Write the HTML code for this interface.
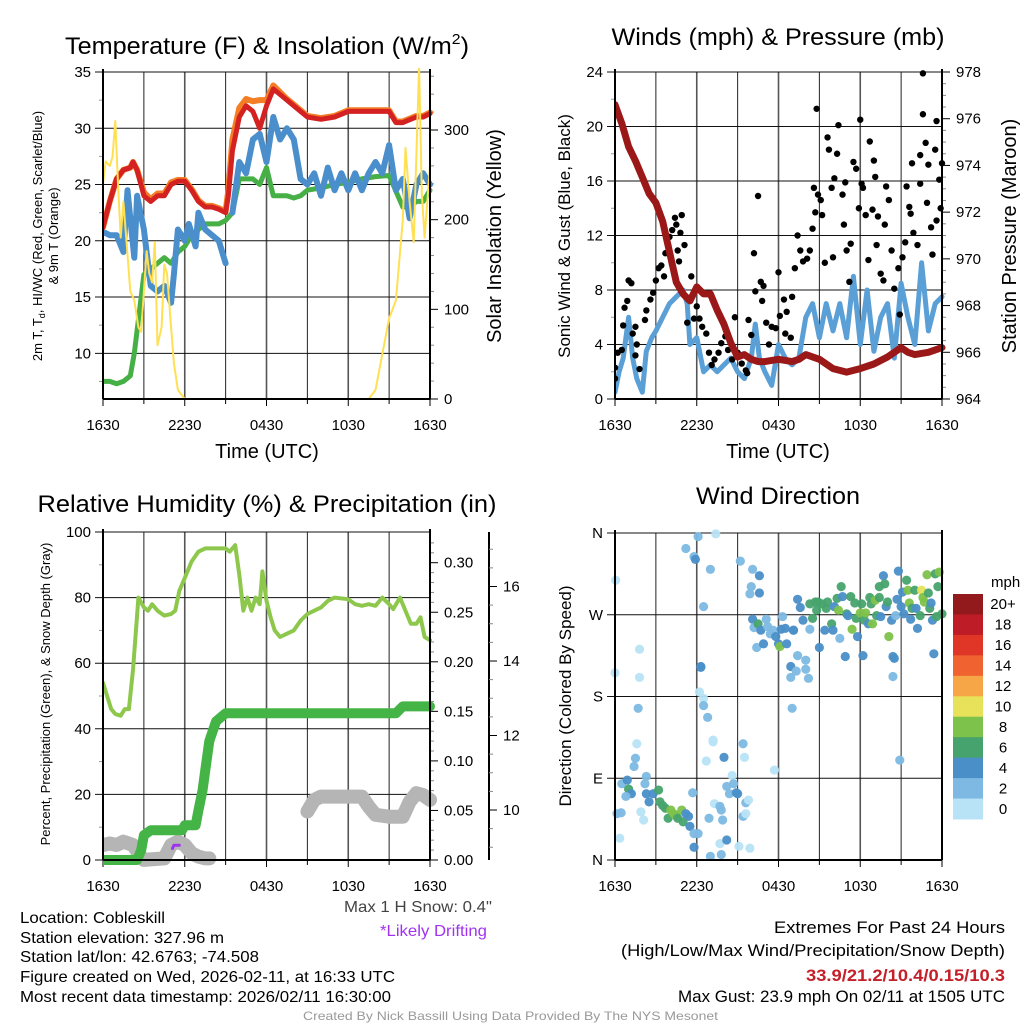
<!DOCTYPE html>
<html><head><meta charset="utf-8"><style>
html,body{margin:0;padding:0;background:#fff}
svg{display:block;font-family:"Liberation Sans",sans-serif}
</style></head><body>
<svg id="s" width="1024" height="1024" viewBox="0 0 1024 1024" xmlns="http://www.w3.org/2000/svg">
<rect width="1024" height="1024" fill="#fff"/>
<g id="g1"></g>
<g id="g2"></g>
<g id="g3"></g>
<g id="g4"></g>
<g font-size="24" fill="#000" text-anchor="middle">
<text x="267" y="54" textLength="404" lengthAdjust="spacingAndGlyphs">Temperature (F) &amp; Insolation (W/m<tspan font-size="15" dy="-10">2</tspan><tspan dy="10">)</tspan></text>
<text x="778" y="45" textLength="333" lengthAdjust="spacingAndGlyphs">Winds (mph) &amp; Pressure (mb)</text>
<text x="267" y="512" textLength="459" lengthAdjust="spacingAndGlyphs">Relative Humidity (%) &amp; Precipitation (in)</text>
<text x="778" y="504" textLength="164" lengthAdjust="spacingAndGlyphs">Wind Direction</text>
</g>
<g font-size="20" text-anchor="middle">
<text x="267" y="458">Time (UTC)</text>
<text x="778" y="458">Time (UTC)</text>
<text transform="translate(501,236) rotate(-90)">Solar Insolation (Yellow)</text>
<text transform="translate(1016,236) rotate(-90)">Station Pressure (Maroon)</text>
</g>
<g font-size="13" text-anchor="middle">
<text transform="translate(42,236) rotate(-90)">2m T, T<tspan font-size="9" dy="3">d</tspan><tspan dy="-3">, HI/WC (Red, Green, Scarlet/Blue)</tspan></text>
<text transform="translate(58,236) rotate(-90)">&amp; 9m T (Orange)</text>
<text transform="translate(50,694) rotate(-90)">Percent, Precipitation (Green), &amp; Snow Depth (Gray)</text>
</g>
<g font-size="17" text-anchor="middle">
<text transform="translate(570,236) rotate(-90)">Sonic Wind &amp; Gust (Blue, Black)</text>
<text transform="translate(571,696) rotate(-90)">Direction (Colored By Speed)</text>
</g>
<g font-size="16" fill="#000">
<text x="20" y="923" textLength="145" lengthAdjust="spacingAndGlyphs">Location: Cobleskill</text>
<text x="20" y="943" textLength="204" lengthAdjust="spacingAndGlyphs">Station elevation: 327.96 m</text>
<text x="20" y="962" textLength="239" lengthAdjust="spacingAndGlyphs">Station lat/lon: 42.6763; -74.508</text>
<text x="20" y="982" textLength="375" lengthAdjust="spacingAndGlyphs">Figure created on Wed, 2026-02-11, at 16:33 UTC</text>
<text x="20" y="1002" textLength="371" lengthAdjust="spacingAndGlyphs">Most recent data timestamp: 2026/02/11 16:30:00</text>
<text x="344" y="912" textLength="148" lengthAdjust="spacingAndGlyphs" fill="#444">Max 1 H Snow: 0.4"</text>
<text x="380" y="936" textLength="107" lengthAdjust="spacingAndGlyphs" fill="#a032f0">*Likely Drifting</text>
</g>
<g font-size="16.5" fill="#000">
<text x="774" y="933" textLength="231" lengthAdjust="spacingAndGlyphs">Extremes For Past 24 Hours</text>
<text x="621" y="956" textLength="384" lengthAdjust="spacingAndGlyphs">(High/Low/Max Wind/Precipitation/Snow Depth)</text>
<text x="806" y="981" textLength="199" lengthAdjust="spacingAndGlyphs" fill="#c4202a" font-weight="bold">33.9/21.2/10.4/0.15/10.3</text>
<text x="678" y="1002" textLength="327" lengthAdjust="spacingAndGlyphs">Max Gust: 23.9 mph On 02/11 at 1505 UTC</text>
</g>
<text x="303" y="1020" font-size="12" fill="#999" textLength="415" lengthAdjust="spacingAndGlyphs">Created By Nick Bassill Using Data Provided By The NYS Mesonet</text>
</svg>
<script>
// ---------- data ----------
const xTickLabels=["1630","2230","0430","1030","1630"];
const tempT=[0,0.5,1,1.5,2,2.2,2.5,3,3.5,4,4.5,5,5.5,6,6.5,7,7.5,8,8.5,9,9.2,9.5,10,10.5,11,11.5,12,12.5,13,13.5,14,14.5,15,16,17,18,19,20,21,21.5,22,23,23.5,24];
const tempV=[21.2,23.5,25.5,26.3,26.5,27,26.3,24,23.5,24,24,25,25.3,25.3,24.5,23.5,23,23,22.8,22.5,24,28,31,32,31.5,30,32,33.5,33,32.5,32,31.5,31,30.8,31,31.5,31.5,31.5,31.5,30.5,30.5,31,31,31.3];
const temp9V=[21.2,23.5,25.5,26.3,26.5,27,26.3,24.3,23.7,24.2,24.2,25.2,25.4,25.4,24.6,23.6,23.1,23.1,22.9,22.6,24.5,29,31.8,32.6,32.4,32.5,32.5,33.8,33.2,32.6,32.1,31.6,31.1,30.9,31.1,31.6,31.6,31.6,31.6,30.6,30.6,31.1,31.1,31.4];
const chillT=[0,0.5,1,1.5,1.8,2,2.3,2.5,3,3.5,4,4.5,5,5.2,5.5,6,6.3,6.8,7,7.5,8,8.5,9,9.3,9.5,10,10.5,11,11.5,12,12.5,13,13.5,14,14.5,15,15.5,16,16.5,17,17.5,18,18.5,19,19.5,20,20.5,21,21.5,22,22.5,23,23.5,24];
const chillV=[20.8,20.5,20.5,19,24.5,22,18.5,24,21,16,15.5,16,14.5,17,21,20,21.5,19.5,22.5,21,20.5,20,18,null,22.5,27,26,29,29.5,27,31,29,30,29,25.5,25,26,24,26.5,24.5,26,24.5,26,24.5,26,27,26,28.5,24.5,25.5,22,25,26,25];
const dewT=[0,0.5,1,1.5,2,2.3,2.7,3,3.5,4,4.5,5,5.5,6,6.5,7,7.5,8,8.5,9,9.5,10,10.5,11,11.5,12,12.5,13,13.5,14,14.5,15,16,17,18,19,20,21,22,22.5,23,23.5,24];
const dewV=[7.5,7.5,7.3,7.5,8,10,14,17,17.5,18,18.5,18,19,19.5,20.5,21,21.5,21.5,21.5,21.8,22.5,25.5,25.5,25.5,25,26.5,24,24,24,23.8,24,24.5,24.7,25,25.2,25.5,25.7,25.8,23,23,23.5,23.5,24.5];
const solarT=[0,0.2,0.5,0.7,0.9,1.1,1.3,1.5,1.7,2,2.3,2.6,2.8,3,3.2,3.4,3.6,3.8,4,4.3,4.5,4.7,5,5.2,5.5,6,19.5,20,20.5,21,21.5,22,22.2,22.5,22.8,23.2,23.4,23.6,24];
const solarV=[240,265,260,270,310,240,180,220,180,120,110,80,75,120,165,140,130,175,60,80,150,140,80,40,10,0,0,10,50,90,110,200,280,220,175,370,230,180,260];
const presT=[0,0.5,1,1.5,2,2.5,3,3.5,4,4.5,5,5.5,6,6.5,7,7.5,8,8.5,9,9.5,10,10.5,11,12,13,13.5,14,15,16,17,18,19,20,21,21.5,22,23,24];
const presV=[976.6,975.8,974.8,974.2,973.5,972.8,972.4,971.6,970.3,969,968.5,968.2,968.8,968.5,968.5,967.8,967.2,966.4,965.8,965.9,965.7,965.6,965.6,965.7,965.6,965.7,965.9,965.7,965.3,965.15,965.3,965.5,965.8,966.2,966,965.9,966,966.2];
const windT=[0,0.3,0.6,1,1.3,1.6,2,2.3,2.7,3,3.5,4,4.5,5,5.3,5.5,6,6.5,7,7.5,8,8.5,9,9.5,10,10.3,10.6,11,11.5,12,12.5,13,13.5,14,14.5,15,15.5,16,16.5,17,17.5,18,18.5,19,19.5,20,20.5,21,21.5,22,22.5,23,23.5,24];
const windV=[0.5,2,3,6,3,1.5,0.5,3.5,4.5,5,6,7,7.5,8,7,4,4.5,2,2.5,2,2.5,3,2,1.5,3,5.5,3,2,1,4,3,2.5,3,6,7,4.5,7,5,7,4.5,9,4,8,3.5,6,7,3,8.5,6,4,10,5,7,7.5];
const gustT=[0,0,0.2,0.5,0.6,0.7,0.9,1,1.2,1.3,1.5,1.5,1.6,1.8,2.2,2.3,2.6,2.8,3,3.2,3.4,3.6,3.7,3.9,4,4.2,4.4,4.5,4.7,4.6,4.8,4.9,5.1,5.3,5.4,5.6,5.8,6,6.2,6.4,6.7,6.9,7.1,7.3,7.6,7.8,8.1,8.3,8.6,8.8,9,9.3,9.6,9.7,9.8,10,10.2,10.3,10.5,10.7,10.8,10.9,11.1,11.3,11.5,11.8,12,12.1,12.4,12.5,12.6,12.9,13,13.2,13.4,13.6,13.8,14.1,14.3,14.5,14.6,14.7,14.8,14.9,15.1,15.2,15.4,15.6,15.7,15.9,16,16.1,16.3,16.4,16.7,16.8,16.9,17,17.2,17.3,17.5,17.7,17.9,18,18.1,18.2,18.4,18.6,18.7,18.9,19,19.1,19.2,19.3,19.5,19.7,19.8,19.9,20.1,20.3,20.5,20.8,20.9,21.1,21.3,21.4,21.6,21.7,21.8,21.9,22.2,22.4,22.4,22.6,22.6,22.8,22.9,23,23.2,23.3,23.5,23.6,23.6,23.8,23.9,24];
const gustV=[2.3,1.5,3.4,3.6,5.4,6.7,7.2,8.7,8.5,4.8,3.2,5.3,4,2.2,5.8,6.5,7.3,7.8,8.7,9.6,9.8,9,10.7,11.3,11.9,12.4,13.3,12.8,10.1,10.9,12.2,13.5,11.3,5.6,7.3,9,5.9,6.8,5.9,5.3,4.8,3.4,2.5,2.9,3.4,4.1,4.6,3.6,2.9,6,3.4,2.6,2.1,1.9,5.8,4.7,10.7,7.9,14.9,8.6,7.2,8.3,5.6,4,5.3,5.2,9.3,6.1,7.3,4.8,6.4,4.5,7.5,9.6,12,10.9,10.1,10.3,10.9,12.5,15.5,13.7,21.3,15,14.6,13.5,10,19.2,18.3,15.5,10.4,16.2,18,20.1,15,12.8,15.9,10.9,8.6,11.4,17.4,16.9,14,20.5,15.8,15.5,13.5,10.2,18.9,13.9,17.5,16.3,11.3,13.4,9.2,8.7,12.8,15.6,14.6,10.9,8.1,9.6,6.2,10.4,11.5,15.6,14.1,13.6,17.3,12.2,11.3,17.9,15.8,23.9,20.9,18.8,14.4,17.2,12.6,10.6,18.3,13.1,20.4,16.1,14,17.3];
const rhT=[0,0.3,0.6,0.9,1.3,1.6,1.9,2.2,2.6,3,3.3,3.6,4,4.5,5,5.3,5.6,6,6.5,7,7.5,8,8.5,9,9.3,9.7,10,10.3,10.6,10.9,11.2,11.5,11.7,12,12.3,12.6,13,13.5,14,14.5,15,15.5,16,16.5,17,18,18.5,19,19.5,20,20.5,21,21.3,21.8,22.3,22.6,23,23.3,23.6,24];
const rhV=[54,50,46,44.5,44,46,46,58,80,77,76,78,76,74.5,75,76,82,86,91,94,95,95,95,95,94,96,87,76,80,76,80,78,88,79,74,70,68,69,70,73,75,76,77,79,80,79.5,78,77.5,78,77.5,80,78,76.5,80,75,72,72,74,68,67];
const precipT=[0,2.5,2.8,3,3.5,5,5.8,6,6.8,7,7.3,7.5,7.8,8.3,9,10,21.5,22,24];
const precipV=[0,0,0.01,0.025,0.03,0.03,0.03,0.035,0.035,0.05,0.07,0.09,0.12,0.14,0.148,0.148,0.148,0.155,0.155];
const snowT=[0,0.5,1,1.5,2.2,2.7,3,4.5,5,5.5,6,6.5,7,7.5,7.8,null,15,15.5,16,17,19,19.5,20,21,22,22.5,23,23.5,24];
const snowV=[9.06,9.1,9.06,9.15,9.06,8.79,8.66,8.7,9.06,9.15,9.06,8.84,8.75,8.7,8.7,null,9.96,10.27,10.36,10.36,10.36,10.09,9.87,9.82,9.82,10.22,10.45,10.4,10.27];
const driftT=[5.1,5.2,5.6];
const driftV=[3.5,4.5,4.5];
const dirT=[0.05,0,0.35,0.15,0.45,0.5,0.9,1.0,1.2,0.8,1.4,1.5,1.6,1.7,1.8,1.8,1.9,2.1,2.3,2.2,2.3,2.5,2.8,3.2,3.3,3.5,3.7,3.9,4.1,4.3,4.5,4.6,4.9,5.0,5.2,5.4,5.5,5.7,5.8,5.8,6.1,5.2,5.8,5.9,6.1,6.5,6.3,6.3,6.2,6.5,6.5,6.8,7.0,7.2,7.2,6.7,6.9,7.0,7.4,7.3,7.7,7.8,7.9,7.8,7.7,8.0,8.2,8.2,8.4,8.6,8.7,8.9,9.0,9.1,9.2,9.4,9.4,9.5,9.6,9.6,9.8,9.9,10.1,10.0,9.9,10.6,10.6,10.1,10.2,10.4,10.5,10.7,10.9,11.1,11.2,11.4,11.6,11.7,11.8,12.0,12.1,12.2,12.3,12.5,12.6,12.9,13.1,13.0,13.1,12.9,13.3,13.4,13.4,13.6,13.8,14.0,14.0,14.2,14.3,14.3,14.5,14.7,14.8,14.9,15.0,15.2,15.4,15.5,15.6,15.9,16.0,16.1,16.3,16.4,16.5,16.6,16.7,16.9,17.0,17.1,17.3,17.4,17.6,17.7,17.8,18.0,18.1,18.2,18.3,18.4,18.6,18.7,18.8,18.9,19.1,19.2,19.4,19.4,19.5,19.7,19.8,19.9,20.0,20.1,20.3,20.4,20.4,20.5,20.6,20.7,20.8,20.9,21.0,21.1,21.2,21.4,21.5,21.6,21.7,21.8,22.0,22.1,22.2,22.4,22.5,22.6,22.7,22.9,23.0,23.1,23.2,23.3,23.4,23.5,23.6,23.7,23.8,24.0];
const dirD=[308,206,24,51,52,84,88,78,73,70,103,112,128,167,201,232,53,44,92,84,73,64,73,77,64,60,57,46,55,51,49,46,55,42,51,48,37,74,14,29,29,343,334,331,356,279,213,212,185,178,170,157,320,132,130,109,46,4,359,62,59,55,44,6,18,113,22,81,73,93,84,74,73,15,329,48,128,113,51,63,66,13,320,301,293,313,294,265,256,234,260,253,238,265,257,249,253,99,246,238,235,254,268,255,238,213,253,167,253,201,208,225,287,278,264,220,210,200,254,282,266,284,275,284,234,282,253,277,284,260,253,279,288,275,244,301,290,224,271,269,290,254,283,266,246,272,282,225,264,272,260,289,282,260,286,269,289,301,268,313,304,279,284,246,264,224,202,222,269,287,318,110,279,295,271,308,297,283,265,277,297,277,255,269,297,289,284,314,294,277,283,264,227,315,268,301,317,271];
const dirS=[1,1,1,3,3,3,5,7,5,3,3,3,1,3,1,1,1,1,3,3,5,5,5,7,7,7,7,7,9,9,9,7,9,7,5,5,5,3,5,3,3,3,3,5,3,3,5,5,1,1,3,3,3,1,1,1,3,3,1,1,3,3,3,3,1,5,5,3,3,1,3,5,5,1,3,3,3,1,1,3,1,1,3,3,3,5,5,5,3,3,7,5,5,3,3,3,3,1,5,5,9,5,3,5,5,5,5,3,5,3,3,3,5,5,5,3,3,3,3,7,7,7,7,7,5,7,5,7,7,7,5,5,7,9,3,7,5,5,7,5,7,9,7,7,5,9,7,5,7,9,5,7,7,9,9,7,7,7,5,5,7,5,7,9,5,5,3,5,3,5,5,3,5,5,5,7,9,9,5,7,7,5,5,7,11,9,9,9,7,7,5,5,5,7,7,7,9,7];
const speedBins=["0","2","4","6","8","10","12","14","16","18","20+"];
const binColors=["#b8e3f7","#7db9e3","#4a8fc8","#47a36d","#7dc24a","#e8e15a","#f6a646","#f0622f","#df3628","#be1d27","#921a1c"];

// ---------- helpers ----------
const NS="http://www.w3.org/2000/svg";
function mk(parent,tag,attrs){const e=document.createElementNS(NS,tag);for(const k in attrs)e.setAttribute(k,attrs[k]);parent.appendChild(e);return e;}
function lin(d0,d1,r0,r1){return v=>r0+(v-d0)*(r1-r0)/(d1-d0);}
function pathFrom(T,V,sx,sy){let d="",pen=false;for(let i=0;i<T.length;i++){if(T[i]===null||V[i]===null){pen=false;continue;}d+=(pen?"L":"M")+sx(T[i]).toFixed(1)+","+sy(V[i]).toFixed(1);pen=true;}return d;}

function frame(g,P,name){
  for(let h=0;h<=24;h+=3){
    const x=P.sx(h);
    const l=mk(g,"line",{x1:x,x2:x,y1:P.y0,y2:P.y1,stroke:(h%6===0?"#555":"#222"),"stroke-width":(h%6===0&&h>0&&h<24?1.6:1)});
    
    
    const t=mk(g,"line",{x1:x,x2:x,y1:P.y1,y2:P.y1+(h%6===0?7:5),stroke:"#000","stroke-width":1});
    
    
  }
  xTickLabels.forEach((s,i)=>{
    const t=mk(g,"text",{x:P.sx(i*6),y:P.y1+31,"font-size":15,"text-anchor":"middle"});
    t.textContent=s;
    
    
  });
}
function leftAxis(g,P,ticks,labels,sy,name,minor){
  ticks.forEach((v,i)=>{
    const y=sy(v);
    const l=mk(g,"line",{x1:P.x0-8,x2:P.x1,y1:y,y2:y,stroke:"#111","stroke-width":1});
    
    
    const t=mk(g,"text",{x:P.x0-12,y:y+5,"font-size":15,"text-anchor":"end"});
    t.textContent=labels[i];
    
    
  });
  if(minor){minor.forEach(v=>{const y=sy(v);const m=mk(g,"line",{x1:P.x0-4,x2:P.x0,y1:y,y2:y,stroke:"#999"});
    
    });}
}
function rightAxis(g,x,yTop,yBot,ticks,labels,sy,minor,name){
  const a=mk(g,"line",{x1:x,x2:x,y1:yTop,y2:yBot,stroke:"#000","stroke-width":2});
  
  
  ticks.forEach((v,i)=>{const y=sy(v);
    const l=mk(g,"line",{x1:x,x2:x+8,y1:y,y2:y,stroke:"#000"});
    
    
    const t=mk(g,"text",{x:x+14,y:y+5,"font-size":15});
    t.textContent=labels[i];
    
    });
  minor.forEach(v=>{const y=sy(v);const m=mk(g,"line",{x1:x,x2:x+4,y1:y,y2:y,stroke:"#888"});
    
    });
}
function border(g,P,name){
  const a=mk(g,"line",{x1:P.x0,x2:P.x0,y1:P.y0-3,y2:P.y1,stroke:"#000","stroke-width":2});
  
  
  const b=mk(g,"line",{x1:P.x0,x2:P.x1,y1:P.y1,y2:P.y1,stroke:"#000","stroke-width":2});
  
  
  const c=mk(g,"line",{x1:P.x1,x2:P.x1,y1:P.y0-3,y2:P.y1,stroke:"#000","stroke-width":2});
  
  
}
function line(g,T,V,sx,sy,color,w,name){
  const p=mk(g,"path",{d:pathFrom(T,V,sx,sy),fill:"none",stroke:color,"stroke-width":w,"stroke-linejoin":"round","stroke-linecap":"round"});
  
  
  return p;
}
function clip(id,P){const s=document.getElementById("s");const c=mk(s,"clipPath",{id:id});mk(c,"rect",{x:P.x0,y:P.y0-4,width:P.x1-P.x0+4,height:P.y1-P.y0+4});return "url(#"+id+")";}

// ---------- panel 1 ----------
(function(){
  const g=document.getElementById("g1");
  const P={x0:103,x1:430,y0:72,y1:399};P.sx=lin(0,24,P.x0,P.x1);
  const sy=lin(5.94,35,399,72), sr=lin(0,364.7,399,72);
  frame(g,P,"temp");
  const tk=[10,15,20,25,30,35];
  leftAxis(g,P,tk,tk.map(String),sy,"temp",[7.5,12.5,17.5,22.5,27.5,32.5]);
  const mn=[];for(let v=20;v<=360;v+=20)if(v%100)mn.push(v);
  rightAxis(g,430,72,399,[0,100,200,300],["0","100","200","300"],sr,mn,"solar");
  const d=mk(g,"g",{"clip-path":clip("c1",P)});
  line(d,dewT,dewV,P.sx,sy,"#46b046",5,"dewpoint-line");
  line(d,chillT,chillV,P.sx,sy,"#4a8fcc",6,"windchill-line");
  line(d,tempT,temp9V,P.sx,sy,"#f47e25",6,"temp-9m-line");
  line(d,tempT,tempV,P.sx,sy,"#d42222",5,"temp-2m-line");
  line(d,solarT,solarV,P.sx,sr,"#ffe052",2,"solar-line");
  border(g,P,"temp");
})();

// ---------- panel 2 ----------
(function(){
  const g=document.getElementById("g2");
  const P={x0:615,x1:942,y0:72,y1:399};P.sx=lin(0,24,P.x0,P.x1);
  const sy=lin(0,24,399,72), sp=lin(964,978,399,72);
  frame(g,P,"wind");
  const tk=[0,4,8,12,16,20,24];
  leftAxis(g,P,tk,tk.map(String),sy,"wind",[2,6,10,14,18,22]);
  const mn=[];for(let v=964.5;v<978;v+=0.5)if(v%2)mn.push(v);
  rightAxis(g,942,72,399,[964,966,968,970,972,974,976,978],["964","966","968","970","972","974","976","978"],sp,mn,"pressure");
  const d=mk(g,"g",{"clip-path":clip("c2",P)});
  line(d,windT,windV,P.sx,sy,"#5a9fd6",5,"sonic-wind-line");
  gustT.forEach((t,i)=>{
    const c=mk(d,"circle",{cx:P.sx(t),cy:sy(gustV[i]),r:3.2,fill:"#000"});
    
    
  });
  line(d,presT,presV,P.sx,sp,"#9b1818",7,"pressure-line");
  border(g,P,"wind");
})();

// ---------- panel 3 ----------
(function(){
  const g=document.getElementById("g3");
  const P={x0:103,x1:430,y0:532,y1:860};P.sx=lin(0,24,P.x0,P.x1);
  const sy=lin(0,100,860,532), spr=lin(0,0.3,860,562.7), ssn=lin(10,12,810,735.5);
  frame(g,P,"rh");
  const tk=[0,20,40,60,80,100];
  leftAxis(g,P,tk,tk.map(String),sy,"rh",[10,30,50,70,90]);
  const mn=[];for(let v=0.01;v<0.33;v+=0.01)if(Math.round(v*100)%5)mn.push(v);
  rightAxis(g,430,532,860,[0,0.05,0.1,0.15,0.2,0.25,0.3],["0.00","0.05","0.10","0.15","0.20","0.25","0.30"],spr,mn,"precip");
  const mn2=[];for(let v=9;v<=17.4;v+=0.5)if(v%2)mn2.push(v);
  rightAxis(g,489,532,860,[10,12,14,16],["10","12","14","16"],ssn,mn2,"snow-depth");
  const d=mk(g,"g",{"clip-path":clip("c3",{x0:103,x1:436,y0:532,y1:868})});
  line(d,snowT,snowV,P.sx,ssn,"#b5b5b5",14,"snow-depth-line");
  line(d,driftT,driftV,P.sx,sy,"#a033f0",3,"drifting-line");
  line(d,precipT,precipV,P.sx,spr,"#45b447",10,"precip-line");
  line(d,rhT,rhV,P.sx,sy,"#8dc84c",4,"rh-line");
  border(g,P,"rh");
})();

// ---------- panel 4 ----------
(function(){
  const g=document.getElementById("g4");
  const P={x0:615,x1:942,y0:533,y1:860};P.sx=lin(0,24,P.x0,P.x1);
  const sy=lin(0,360,860,533);
  frame(g,P,"dir");
  leftAxis(g,P,[0,90,180,270,360],["N","E","S","W","N"],sy,"dir",null);
  const d=mk(g,"g",{"clip-path":clip("c4",{x0:610,x1:944,y0:528,y1:866})});
  dirT.forEach((t,i)=>{
    const bin=Math.min(10,Math.floor(dirS[i]/2));
    const c=mk(d,"circle",{cx:P.sx(t),cy:sy(dirD[i]),r:4.6,fill:binColors[bin],opacity:0.95});
    
    
  });
  border(g,P,"dir");
  const t=mk(g,"text",{x:991,y:587,"font-size":15});
  t.textContent="mph";
  
  
  const bh=(819-594)/11;
  for(let i=0;i<11;i++){
    const k=10-i;
    const r=mk(g,"rect",{x:953,y:594+i*bh,width:30,height:bh+0.5,fill:binColors[k]});
    
    
    const l=mk(g,"text",{x:1003,y:594+i*bh+bh/2+5,"font-size":15,"text-anchor":"middle"});
    l.textContent=speedBins[k];
    
    
  }
})();
</script>
</body></html>
